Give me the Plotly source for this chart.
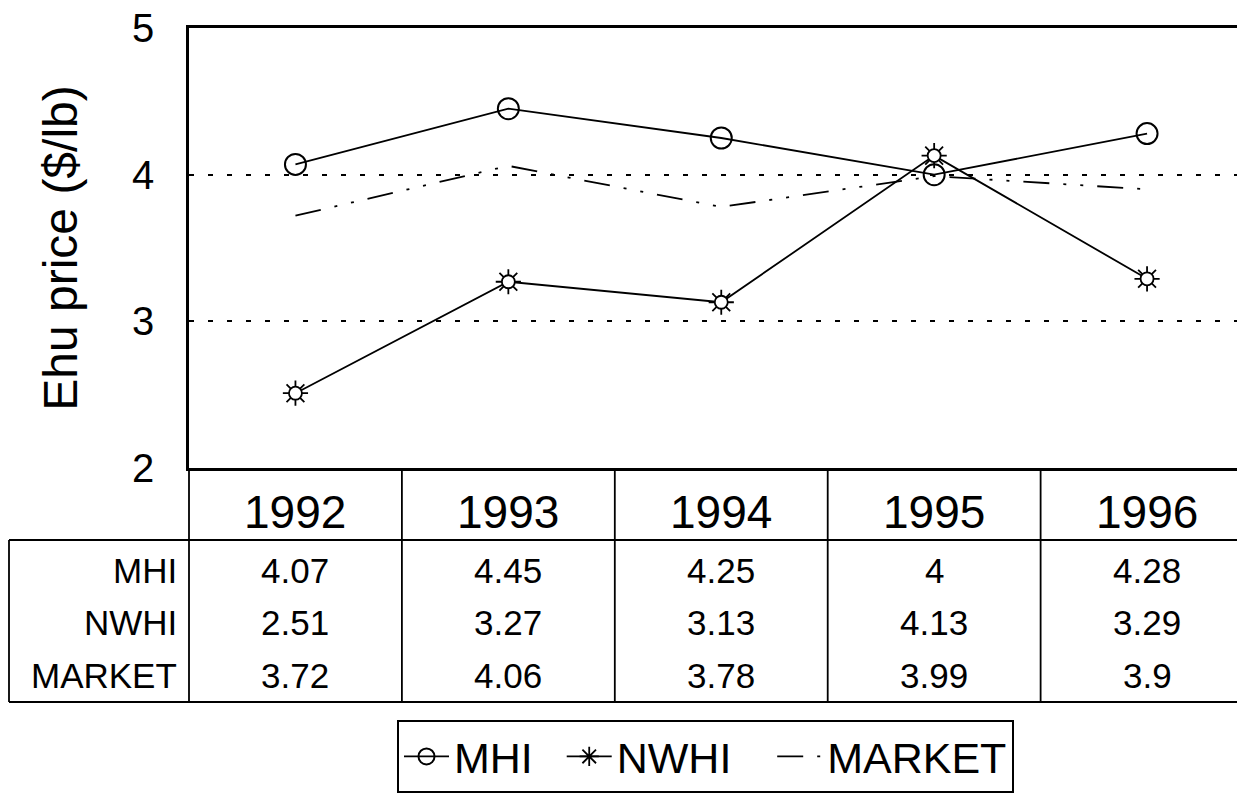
import plotly.graph_objects as go

# === Data ===
years = ['1992', '1993', '1994', '1995', '1996']
mhi = [4.07, 4.45, 4.25, 4.0, 4.28]
nwhi = [2.51, 3.27, 3.13, 4.13, 3.29]
market = [3.72, 4.06, 3.78, 3.99, 3.9]
row_names = ['MHI', 'NWHI', 'MARKET']
row_texts = [
    ['4.07', '4.45', '4.25', '4', '4.28'],
    ['2.51', '3.27', '3.13', '4.13', '3.29'],
    ['3.72', '4.06', '3.78', '3.99', '3.9'],
]

FONT = 'Liberation Sans, Arial, sans-serif'
OFF = 8                         # page body margin of the html page
W, H = 1245 - OFF, 795 - OFF
# plot area in page pixels (right edge = window edge)
L, T, B = 189 - OFF, 28 - OFF, 468 - OFF
X_RANGE = [-0.5, 4.46]
NB = '\u00a0'                   # spacing between legend entries


def xp(px):
    return (px - OFF - L) / (W - L)


def yp(py):
    return (B - (py - OFF)) / (B - T)


def cat_paper(v):
    return (v - X_RANGE[0]) / (X_RANGE[1] - X_RANGE[0])


fig = go.Figure()

# MHI - open circles
fig.add_trace(go.Scatter(
    x=years, y=mhi, name='MHI' + NB * 2, mode='lines+markers',
    line=dict(color='black', width=1.8),
    marker=dict(symbol='circle-open', size=21, color='black', line=dict(width=2)),
))

# NWHI - "sun" marker (asterisk rays + white circle)
fig.add_trace(go.Scatter(
    x=years, y=nwhi, name='NWHI' + NB * 3, mode='lines+markers',
    line=dict(color='black', width=1.8),
    marker=dict(symbol='asterisk-open', size=21, color='black', line=dict(width=1.8, color='black')),
))
fig.add_trace(go.Scatter(
    x=years, y=nwhi, mode='markers', showlegend=False, hoverinfo='skip',
    marker=dict(symbol='circle', size=13, color='white', line=dict(width=1.8, color='black')),
))

# MARKET - long dash / dot / dot
fig.add_trace(go.Scatter(
    x=years, y=market, name='MARKET', mode='lines',
    line=dict(color='black', width=1.8, dash='26px,14px,3px,14px,3px,14px'),
))

# === Table below the plot ===
shapes = []
tl = dict(color='black', width=1.8)
shapes.append(dict(type='line', xref='paper', yref='paper', x0=xp(9), x1=1, y0=yp(540), y1=yp(540), line=tl))
shapes.append(dict(type='line', xref='paper', yref='paper', x0=xp(9), x1=1, y0=yp(702), y1=yp(702), line=tl))
shapes.append(dict(type='line', xref='paper', yref='paper', x0=xp(9), x1=xp(9), y0=yp(540), y1=yp(702), line=tl))
shapes.append(dict(type='line', xref='paper', yref='paper', x0=0, x1=0, y0=yp(468), y1=yp(702), line=tl))
for i in range(len(years) - 1):
    xc = cat_paper(i + 0.5)
    shapes.append(dict(type='line', xref='paper', yref='paper', x0=xc, x1=xc, y0=yp(468), y1=yp(702), line=tl))

annotations = []
for i, yr in enumerate(years):
    annotations.append(dict(x=i, xref='x', y=yp(512), yref='paper', text=yr, showarrow=False,
                            font=dict(family=FONT, size=46, color='black'), xanchor='center', yanchor='middle'))

row_y = [570, 622, 675]
for r, name in enumerate(row_names):
    annotations.append(dict(x=xp(179), xref='paper', y=yp(row_y[r]), yref='paper', text=name, showarrow=False,
                            font=dict(family=FONT, size=35, color='black'), xanchor='right', yanchor='middle'))
    for i, txt in enumerate(row_texts[r]):
        annotations.append(dict(x=i, xref='x', y=yp(row_y[r]), yref='paper', text=txt, showarrow=False,
                                font=dict(family=FONT, size=35, color='black'), xanchor='center', yanchor='middle'))

# === Layout ===
fig.update_layout(
    width=W, height=H, autosize=False,
    paper_bgcolor='white', plot_bgcolor='white',
    font=dict(family=FONT, color='black'),
    margin=dict(l=L, r=0, t=T, b=H - B, autoexpand=False),
    showlegend=True,
    legend=dict(
        orientation='h', xref='container', yref='container',
        x=(397 - OFF) / W, xanchor='left', y=1 - (720 - OFF) / H, yanchor='top',
        font=dict(family=FONT, size=43, color='black'),
        bordercolor='black', borderwidth=2, bgcolor='white',
        itemwidth=45,
    ),
    shapes=shapes,
    annotations=annotations,
)

fig.update_xaxes(
    type='category', range=X_RANGE, showticklabels=False, ticks='',
    showgrid=False, zeroline=False, automargin=False,
    showline=True, linecolor='black', linewidth=2.5, mirror=True,
)

fig.update_yaxes(
    range=[2, 5], tickvals=[2, 3, 4, 5], ticks='', automargin=False,
    tickfont=dict(family=FONT, size=40, color='black'), ticklabelstandoff=24,
    ticklabeloverflow='allow',
    showgrid=True, gridcolor='black', gridwidth=1.5, griddash='5px,14px',
    zeroline=False,
    showline=True, linecolor='black', linewidth=2.5,
    title=dict(text='Ehu price ($/lb)', font=dict(family=FONT, size=48, color='black'), standoff=40),
)

fig.write_html('out.html')
